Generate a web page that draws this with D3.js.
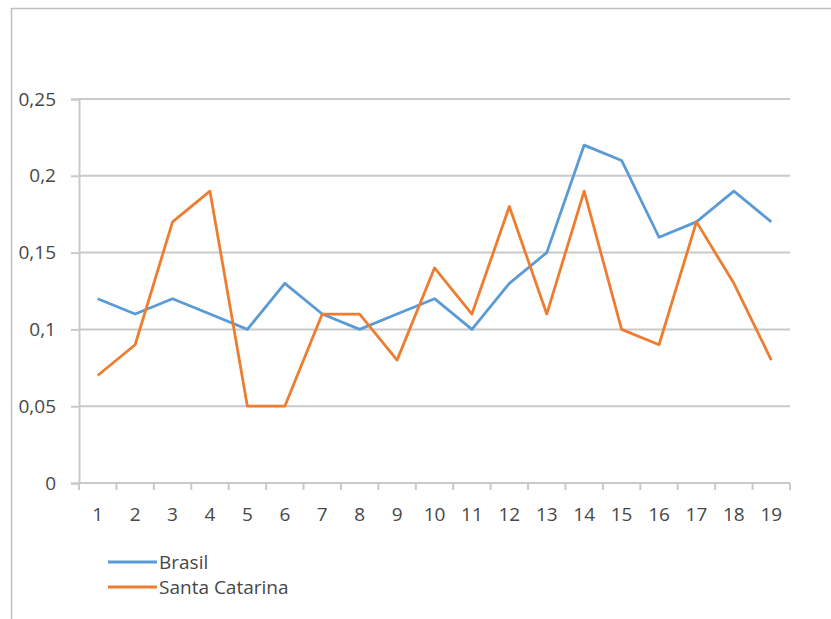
<!DOCTYPE html>
<html>
<head>
<meta charset="utf-8">
<script src="https://cdn.jsdelivr.net/npm/d3@7"></script>
<style>
  html, body { margin: 0; padding: 0; background: #fff; }
  svg { display: block; }
  text { font-family: "Open Sans", "Liberation Sans", sans-serif; }
</style>
</head>
<body>
<svg id="chart" width="831" height="619"></svg>
<script>
// Categories along the horizontal axis
const categories = ["1","2","3","4","5","6","7","8","9","10","11","12","13","14","15","16","17","18","19"];

// Series values
const brasil = [0.12, 0.11, 0.12, 0.11, 0.10, 0.13, 0.11, 0.10, 0.11, 0.12, 0.10, 0.13, 0.15, 0.22, 0.21, 0.16, 0.17, 0.19, 0.17];
const santaCatarina = [0.07, 0.09, 0.17, 0.19, 0.05, 0.05, 0.11, 0.11, 0.08, 0.14, 0.11, 0.18, 0.11, 0.19, 0.10, 0.09, 0.17, 0.13, 0.08];

// Value axis ticks and their labels
const yTicks = [0, 0.05, 0.1, 0.15, 0.2, 0.25];
const yTickLabels = ["0", "0,05", "0,1", "0,15", "0,2", "0,25"];

const seriesNames = ["Brasil", "Santa Catarina"];
const seriesColors = ["#5B9BD5", "#ED7D31"];
const seriesData = [brasil, santaCatarina];

const textColor = "#474747";
const fontSize = "19px";

const svg = d3.select("#chart");

// Outer chart frame (top and left edges visible)
svg.append("rect")
  .attr("x", 11.5).attr("y", 8.5)
  .attr("width", 840).attr("height", 640)
  .attr("fill", "#fff")
  .attr("stroke", "#bfbfbf")
  .attr("stroke-width", 1.5);

const plotLeft = 79, plotRight = 790, plotTop = 99, plotBottom = 483;

const x = d3.scaleBand().domain(categories).range([plotLeft, plotRight]).padding(0);
const y = d3.scaleLinear().domain([0, 0.25]).range([plotBottom, plotTop]);

// Horizontal gridlines
svg.append("g")
  .selectAll("line")
  .data(yTicks.filter(d => d > 0))
  .join("line")
  .attr("x1", plotLeft).attr("x2", plotRight)
  .attr("y1", d => y(d)).attr("y2", d => y(d))
  .attr("stroke", "#c9c9c9")
  .attr("stroke-width", 2);

// Value axis
const yAxis = d3.axisLeft(y)
  .tickValues(yTicks)
  .tickSize(8)
  .tickPadding(15)
  .tickFormat((d, i) => yTickLabels[i]);
const gy = svg.append("g").attr("transform", `translate(${plotLeft},0)`).call(yAxis);
gy.select(".domain").attr("stroke", "#c9c9c9").attr("stroke-width", 2);
gy.selectAll(".tick line").attr("stroke", "#c9c9c9").attr("stroke-width", 2);
gy.selectAll(".tick text")
  .attr("fill", textColor)
  .style("font-size", fontSize);

// Category axis: baseline plus tick marks at band boundaries
const gx = svg.append("g");
gx.append("line")
  .attr("x1", plotLeft).attr("x2", plotRight)
  .attr("y1", plotBottom).attr("y2", plotBottom)
  .attr("stroke", "#c9c9c9").attr("stroke-width", 2);
const boundaries = categories.map(c => x(c)).concat([x(categories[categories.length - 1]) + x.bandwidth()]);
gx.selectAll("line.tick")
  .data(boundaries)
  .join("line")
  .attr("class", "tick")
  .attr("x1", d => d).attr("x2", d => d)
  .attr("y1", plotBottom).attr("y2", plotBottom + 7)
  .attr("stroke", "#c9c9c9").attr("stroke-width", 2);
gx.selectAll("text")
  .data(categories)
  .join("text")
  .attr("x", d => x(d) + x.bandwidth() / 2)
  .attr("y", plotBottom + 38)
  .attr("text-anchor", "middle")
  .attr("fill", textColor)
  .style("font-size", fontSize)
  .text(d => d);

// Series lines
const line = d3.line()
  .x((d, i) => x(categories[i]) + x.bandwidth() / 2)
  .y(d => y(d));

svg.append("g")
  .selectAll("path")
  .data(seriesData)
  .join("path")
  .attr("d", d => line(d))
  .attr("fill", "none")
  .attr("stroke", (d, i) => seriesColors[i])
  .attr("stroke-width", 2.8)
  .attr("stroke-linejoin", "round");

// Legend
const legend = svg.append("g");
seriesNames.forEach((name, i) => {
  const ly = 562 + i * 25;
  legend.append("line")
    .attr("x1", 108).attr("x2", 157)
    .attr("y1", ly).attr("y2", ly)
    .attr("stroke", seriesColors[i])
    .attr("stroke-width", 2.8);
  legend.append("text")
    .attr("x", 159).attr("y", ly + 7)
    .attr("fill", textColor)
    .style("font-size", fontSize)
    .text(name);
});
</script>
</body>
</html>
